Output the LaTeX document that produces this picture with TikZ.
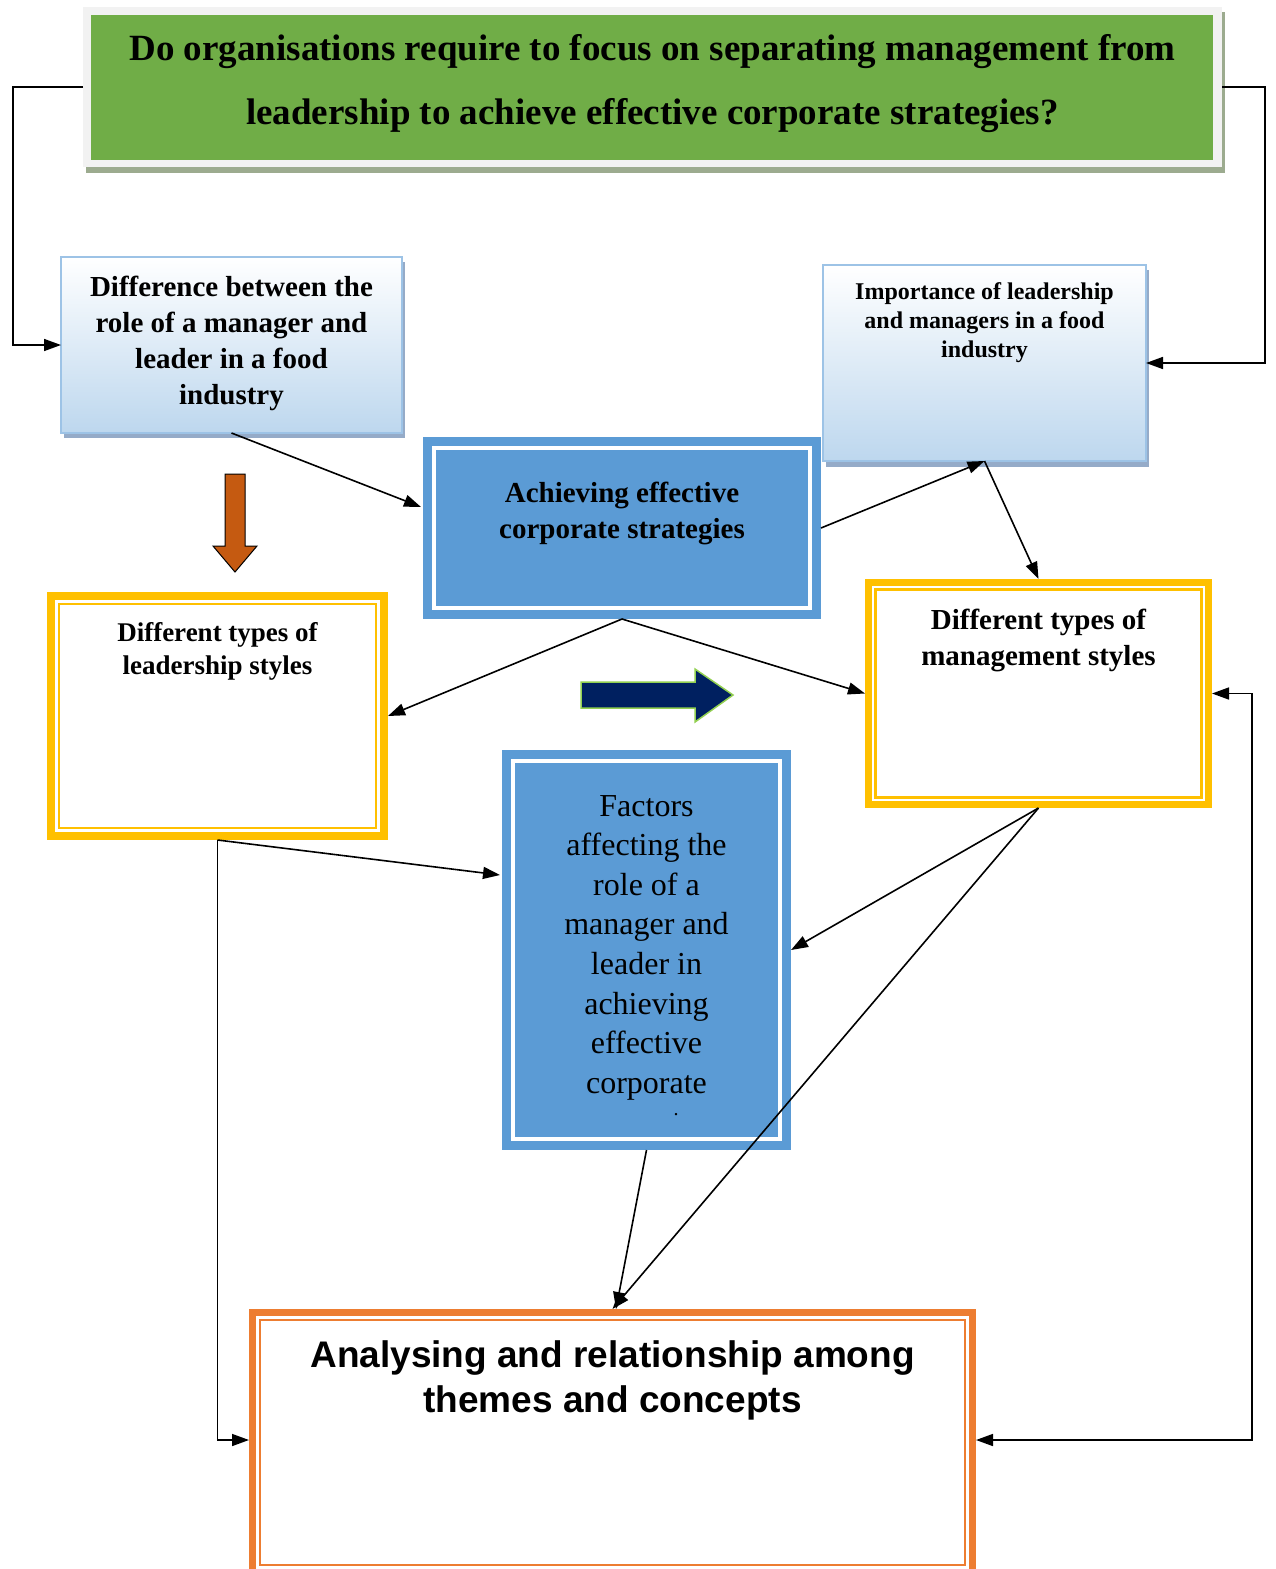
\documentclass[tikz,border=0pt]{standalone}
\usepackage{fontspec}
\setmainfont{Liberation Serif}
\newfontfamily\arialfont{Liberation Sans}
\usetikzlibrary{arrows.meta}
\definecolor{topgreen}{HTML}{70AD47}
\definecolor{framegray}{HTML}{F2F2F2}
\definecolor{shadowgreen}{HTML}{9CAB8F}
\definecolor{boxblue}{HTML}{5B9BD5}
\definecolor{lightblue}{HTML}{BDD7EE}
\definecolor{borderblue}{HTML}{9DC3E6}
\definecolor{shadowblue}{HTML}{95ABC8}
\definecolor{gold}{HTML}{FFC000}
\definecolor{orangeb}{HTML}{ED7D31}
\definecolor{rust}{HTML}{C55A11}
\definecolor{navy}{HTML}{002060}
\definecolor{limeg}{HTML}{92D050}
\begin{document}
\begin{tikzpicture}[x=1pt,y=-1pt,
  conn/.style={line width=1.6pt,-{Triangle[length=17pt,width=12pt]}},
  dconn/.style={line width=1.6pt,{Triangle[length=17pt,width=12pt]}-{Triangle[length=17pt,width=12pt]}},
  frame/.style={anchor=north west,inner sep=0pt,outer sep=0pt},
  lbl/.style={align=center,anchor=north,inner sep=0pt},
  gradbox/.style={frame,draw=borderblue,line width=2pt,top color=white,bottom color=lightblue}]
\useasboundingbox (0,0) rectangle (1275,1569);

% ---- top question box
\fill[shadowgreen] (86,12) rectangle (1225,173);
\node (top) [frame,fill=framegray,minimum width=1139pt,minimum height=160pt] at (83,7) {};
\node (topin) [frame,fill=topgreen,minimum width=1122pt,minimum height=145pt] at (91,15) {};
\node (toptext) [lbl,font=\bfseries\fontsize{37}{64}\selectfont] at (652.5,34.5)
  {Do organisations require to focus on separating management from\\leadership to achieve effective corporate strategies?};

% ---- left gradient box
\fill[shadowblue] (64,262) rectangle (405,438);
\node (lb) [gradbox,minimum width=341pt,minimum height=176pt] at (61,257) {};
\node (lbtext) [lbl,font=\bfseries\fontsize{29}{36}\selectfont] at (231.5,276)
  {Difference between the\\role of a manager and\\leader in a food\\industry};

% ---- right gradient box
\fill[shadowblue] (826,270) rectangle (1149,467);
\node (rb) [gradbox,minimum width=323pt,minimum height=196pt] at (823,265) {};
\node (rbtext) [lbl,font=\bfseries\fontsize{24}{29}\selectfont] at (984.5,282.5)
  {Importance of leadership\\and managers in a food\\industry};

% ---- centre box
\node (cb) [frame,fill=boxblue,minimum width=398pt,minimum height=182pt] at (423,437) {};
\draw[white,line width=4pt] ([shift={(11,11)}]cb.north west) rectangle ([shift={(-11,-11)}]cb.south east);
\node (cbtext) [lbl,font=\bfseries\fontsize{29}{36}\selectfont] at (622,482)
  {Achieving effective\\corporate strategies};

% ---- left yellow box
\node (ly) [frame,fill=white,minimum width=341pt,minimum height=248pt] at (47,592) {};
\draw[gold,line width=8pt] ([shift={(4,4)}]ly.north west) rectangle ([shift={(-4,-4)}]ly.south east);
\draw[gold,line width=2.5pt] ([shift={(12.2,12.2)}]ly.north west) rectangle ([shift={(-12.2,-12.2)}]ly.south east);
\node (lytext) [lbl,font=\bfseries\fontsize{27}{33}\selectfont] at (217.5,622.5)
  {Different types of\\leadership styles};

% ---- right yellow box
\node (ry) [frame,fill=white,minimum width=347pt,minimum height=229pt] at (865,579) {};
\draw[gold,line width=6.7pt] ([shift={(3.35,3.35)}]ry.north west) rectangle ([shift={(-3.35,-3.35)}]ry.south east);
\draw[gold,line width=2.7pt] ([shift={(10.75,10.75)}]ry.north west) rectangle ([shift={(-10.75,-10.75)}]ry.south east);
\node (rytext) [lbl,font=\bfseries\fontsize{29}{36}\selectfont] at (1038.5,609)
  {Different types of\\management styles};

% ---- factors box
\node (fb) [frame,fill=boxblue,minimum width=289pt,minimum height=400pt] at (502,750) {};
\draw[white,line width=4pt] ([shift={(11,11)}]fb.north west) rectangle ([shift={(-11,-11)}]fb.south east);
\node (fbtext) [lbl,font=\fontsize{32}{39.6}\selectfont] at (646.5,795)
  {Factors\\affecting the\\role of a\\manager and\\leader in\\achieving\\effective\\corporate};
\node (fdot) [inner sep=0pt,anchor=base,font=\fontsize{20}{20}\selectfont] at (676,1115) {.};

% ---- bottom box
\node (bt) [frame,fill=white,minimum width=727pt,minimum height=267pt] at (249,1309) {};
\draw[orangeb,line width=7pt] ([shift={(3.5,3.5)}]bt.north west) rectangle ([shift={(-3.5,-3.5)}]bt.south east);
\draw[orangeb,line width=2pt] ([shift={(11,11)}]bt.north west) rectangle ([shift={(-11,-11)}]bt.south east);
\node (bttext) [lbl,font=\arialfont\bfseries\fontsize{37}{45}\selectfont] at (612.5,1340.5)
  {Analysing and relationship among\\themes and concepts};

% ---- block arrows
\filldraw[fill=rust,draw=black,line width=1pt] (225,474) -- (245,474) -- (245,546) -- (257,546) -- (235,572) -- (213,546) -- (225,546) -- cycle;
\filldraw[fill=navy,draw=limeg,line width=1.5pt] (581,682) -- (695,682) -- (695,669) -- (733,695) -- (695,722) -- (695,708) -- (581,708) -- cycle;

% ---- coordinates for connector ends
\coordinate (cbL) at (421,507);
\coordinate (fbL) at (500,875);
\coordinate (btL) at (249,1440);
\coordinate (btR) at (976,1440);
\coordinate (btT) at (616,1309);

% ---- connectors
\draw[conn] (top.west) -- ++(-70,0) |- (lb.west);
\draw[conn] (top.east) -- ++(43,0) |- (rb.east);
\draw[conn] (lb.south) -- (cbL);
\draw[conn] (cb.east) -- (rb.south);
\draw[conn] (rb.south) -- (ry.north);
\draw[conn] (cb.south) -- (ly.east);
\draw[conn] (cb.south) -- (ry.west);
\draw[conn] (ly.south) -- (fbL);
\draw[conn] (ly.south) |- (btL);
\draw[conn] (ry.south) -- (fb.east);
\draw[conn] (ry.south) -- (bt.north);
\draw[conn] (fb.south) -- (btT);
\draw[dconn] (ry.east) -- ++(40,0) |- (btR);
\end{tikzpicture}
\end{document}
